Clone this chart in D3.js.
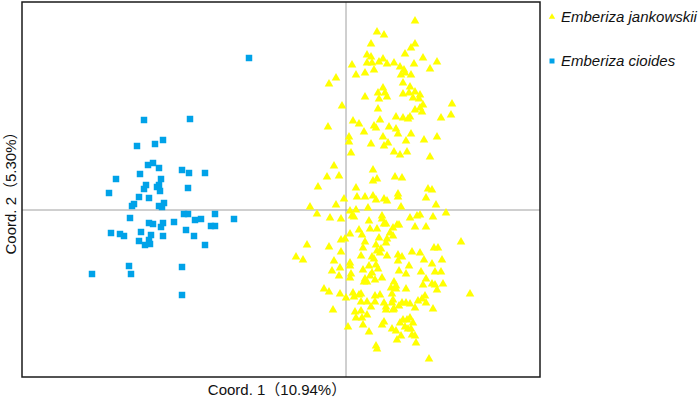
<!DOCTYPE html>
<html>
<head>
<meta charset="utf-8">
<script src="https://cdn.jsdelivr.net/npm/d3@7"></script>
<style>
  body { margin: 0; background: #fff; }
  svg { display: block; }
  text { font-family: "Liberation Sans", Arial, "Noto Sans CJK SC", sans-serif; }
</style>
</head>
<body>
<div id="graph"></div>
<script>
// PCoA scores (units of 0.01 coord)
var cioides = [
  [-97,152],[-202,90],[-156,91],[-209,64],[-191,66],[-183,70],[-198,45],[-193,47],[-187,42],[-164,40],
  [-157,37],[-141,37],[-230,31],[-206,36],[-185,31],[-200,25],[-202,21],[-189,23],[-187,25],[-186,19],
  [-158,22],[-237,17],[-207,13],[-197,12],[-212,6],[-214,4],[-182,7],[-187,4],[-184,3],[-162,-4],
  [-158,-4],[-131,-4],[-216,-8],[-151,-10],[-145,-9],[-112,-9],[-197,-13],[-193,-14],[-183,-13],[-185,-17],
  [-172,-12],[-135,-16],[-131,-16],[-235,-23],[-226,-24],[-222,-26],[-205,-22],[-195,-25],[-183,-26],[-160,-20],
  [-152,-26],[-207,-31],[-197,-30],[-201,-35],[-196,-34],[-141,-35],[-217,-56],[-164,-57],[-254,-64],[-215,-64],
  [-164,-85]
];
var jankowskii = [
  [69,189],[31,178],[38,175],[25,166],[69,166],[65,162],[59,156],[21,155],[25,153],[77,152],
  [37,151],[33,148],[21,147],[26,147],[41,146],[48,147],[68,146],[91,148],[6,145],[54,143],
  [84,141],[28,140],[19,137],[58,140],[59,137],[55,135],[65,135],[10,135],[-10,132],[-17,126],
  [57,127],[64,123],[37,122],[32,117],[39,117],[57,116],[63,117],[69,118],[74,115],[41,113],
  [33,111],[19,113],[67,112],[73,111],[-4,104],[106,106],[77,105],[32,101],[69,100],[74,102],
  [76,98],[105,95],[95,92],[7,89],[13,86],[34,90],[50,93],[57,92],[62,91],[64,93],
  [-18,83],[28,84],[43,83],[50,81],[30,82],[52,76],[65,76],[18,78],[3,73],[3,68],
  [37,73],[42,67],[25,66],[38,64],[60,69],[78,70],[91,73],[5,57],[48,58],[54,55],
  [61,58],[84,53],[-12,44],[27,40],[-19,33],[-7,34],[27,29],[31,31],[49,33],[56,32],
  [-28,23],[10,22],[82,21],[86,20],[-2,11],[11,13],[19,13],[27,14],[30,10],[38,11],
  [41,9],[52,16],[52,13],[80,12],[-36,3],[-10,5],[22,2],[55,3],[90,5],[-29,-4],
  [4,-1],[10,0],[6,-6],[8,-7],[-16,-8],[-5,-9],[36,-6],[36,-9],[64,-8],[71,-6],
  [74,-5],[87,-7],[100,-3],[23,-11],[38,-14],[40,-14],[51,-15],[53,-15],[47,-18],[69,-17],
  [80,-17],[24,-19],[31,-19],[13,-20],[4,-24],[16,-25],[44,-23],[47,-26],[-1,-29],[-5,-30],
  [19,-32],[33,-28],[41,-29],[40,-33],[-39,-35],[-17,-37],[17,-38],[30,-35],[35,-39],[88,-38],
  [92,-38],[115,-32],[-5,-42],[31,-41],[-50,-47],[-43,-50],[-12,-51],[15,-46],[26,-47],[28,-49],
  [34,-43],[41,-46],[52,-45],[56,-47],[52,-51],[66,-42],[74,-43],[78,-50],[96,-50],[4,-53],
  [4,-56],[-6,-58],[23,-56],[30,-55],[63,-56],[86,-54],[-14,-61],[17,-60],[26,-63],[32,-59],
  [53,-61],[60,-64],[75,-62],[89,-62],[95,-62],[-7,-66],[5,-64],[4,-68],[19,-69],[24,-66],
  [29,-70],[36,-68],[80,-69],[18,-72],[21,-72],[48,-72],[77,-75],[86,-74],[97,-74],[45,-78],
  [50,-79],[50,-76],[60,-79],[89,-75],[91,-80],[-22,-79],[-17,-82],[-6,-84],[7,-83],[8,-87],
  [13,-85],[15,-84],[29,-86],[34,-85],[46,-84],[76,-89],[79,-86],[124,-84],[0,-88],[15,-92],
  [21,-92],[29,-92],[38,-93],[47,-90],[46,-93],[56,-93],[60,-93],[64,-94],[72,-91],[80,-93],
  [25,-97],[40,-97],[53,-96],[69,-98],[87,-99],[-13,-100],[9,-102],[15,-101],[21,-105],[40,-100],
  [47,-100],[48,-99],[10,-108],[16,-108],[17,-115],[36,-115],[38,-112],[54,-113],[57,-110],[61,-110],
  [64,-108],[67,-113],[2,-117],[46,-119],[50,-121],[59,-117],[62,-119],[65,-119],[23,-122],[55,-126],
  [66,-125],[69,-126],[51,-130],[70,-133],[30,-136],[31,-139],[83,-149]
];
var xDomain = [-324, 194];
var yDomain = [-167, 208];
var xLabel = "Coord. 1（10.94%）";
var yLabel = "Coord. 2（5.30%）";
var seriesNames = ["Emberiza jankowskii", "Emberiza cioides"];
var seriesColors = ["#ffff00", "#00a2e8"];

var w = 700, h = 399;
var plot = {left: 22, top: 2, right: 540, bottom: 377};

var svg = d3.select("div#graph").append("svg")
	.attr("width", w)
	.attr("height", h);

var x = d3.scaleLinear().domain(xDomain).range([plot.left, plot.right]);
var y = d3.scaleLinear().domain(yDomain).range([plot.bottom, plot.top]);

// zero lines
svg.append("line")
	.attr("x1", x(0)).attr("x2", x(0))
	.attr("y1", plot.top).attr("y2", plot.bottom)
	.attr("stroke", "#a0a0a0").attr("stroke-width", 1);
svg.append("line")
	.attr("x1", plot.left).attr("x2", plot.right)
	.attr("y1", y(0)).attr("y2", y(0))
	.attr("stroke", "#a0a0a0").attr("stroke-width", 1);

var tri = d3.symbol().type(d3.symbolTriangle).size(32);
var sq = d3.symbol().type(d3.symbolSquare).size(42);

svg.selectAll("path.jank")
	.data(jankowskii).enter().append("path")
	.attr("class", "jank")
	.attr("d", tri)
	.attr("fill", seriesColors[0])
	.attr("transform", function(d) { return "translate(" + x(d[0]) + "," + y(d[1]) + ")"; });

svg.selectAll("path.cio")
	.data(cioides).enter().append("path")
	.attr("class", "cio")
	.attr("d", sq)
	.attr("fill", seriesColors[1])
	.attr("transform", function(d) { return "translate(" + x(d[0]) + "," + y(d[1]) + ")"; });

// frame
svg.append("rect")
	.attr("x", plot.left).attr("y", plot.top)
	.attr("width", plot.right - plot.left)
	.attr("height", plot.bottom - plot.top)
	.attr("fill", "none")
	.attr("stroke", "#1a1a1a")
	.attr("stroke-width", 1.5);

// axis titles
svg.append("text")
	.attr("x", 277)
	.attr("y", 395)
	.attr("text-anchor", "middle")
	.attr("font-size", 15)
	.attr("fill", "#111")
	.text(xLabel);
svg.append("text")
	.attr("transform", "translate(16," + ((plot.top + plot.bottom) / 2) + ") rotate(-90)")
	.attr("text-anchor", "middle")
	.attr("font-size", 15)
	.attr("fill", "#111")
	.text(yLabel);

// legend
var legendSyms = [d3.symbol().type(d3.symbolTriangle).size(18), d3.symbol().type(d3.symbolSquare).size(25)];
seriesNames.forEach(function(name, i) {
	var ly = 17 + i * 44;
	svg.append("path")
		.attr("d", legendSyms[i])
		.attr("fill", seriesColors[i])
		.attr("transform", "translate(552," + ly + ")");
	svg.append("text")
		.attr("x", 561)
		.attr("y", ly + 5)
		.attr("font-size", 15)
		.attr("font-style", "italic")
		.attr("fill", "#111")
		.text(name);
});
</script>
</body>
</html>
